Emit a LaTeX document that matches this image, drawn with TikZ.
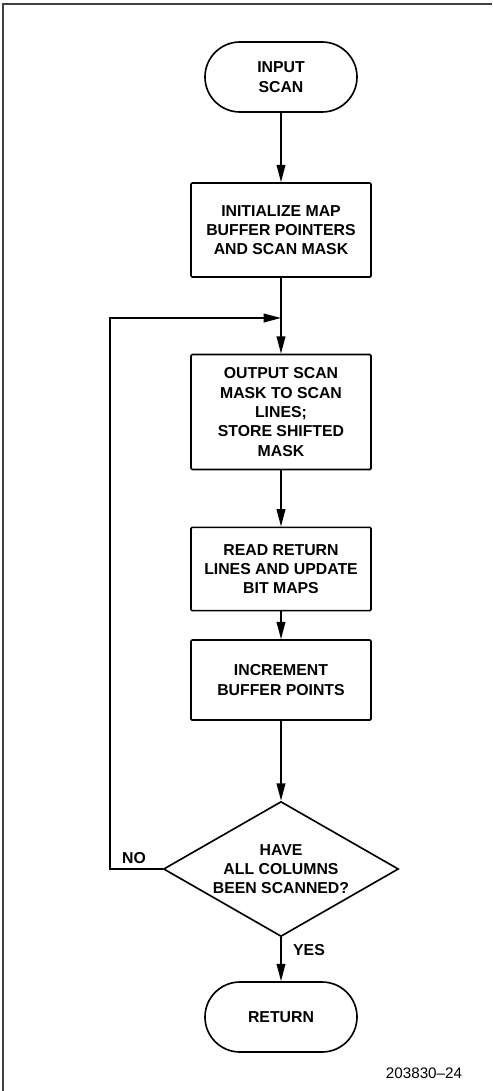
\documentclass[tikz,border=0pt]{standalone}
\usepackage{fontspec}
\setmainfont{Liberation Sans}
\usetikzlibrary{shapes.geometric,arrows.meta}
\begin{document}
\begin{tikzpicture}[x=0.03cm,y=-0.03cm,
  >={Triangle[length=0.52cm,width=0.26cm]},
  line width=1.4pt,
  every node/.style={font=\bfseries\fontsize{13.5}{16.5}\selectfont,align=center},
  term/.style={draw,rectangle,rounded corners=1.05cm,minimum width=4.56cm,minimum height=2.1cm,inner sep=0pt},
  procbox/.style={draw,rectangle,rounded corners=1pt,minimum width=5.4cm,minimum height=2.82cm,inner sep=2pt},
  decide/.style={draw,diamond,aspect=1.74,minimum width=7.05cm,minimum height=4.05cm,inner sep=0pt},
  tag/.style={font=\fontsize{13}{15}\selectfont}]
\useasboundingbox (0,0) rectangle (492,1091);
% frame
\draw[line width=2pt,black!75] (492,4) -- (3,4) -- (3,1091);
\path
(281,77) node[term] (in) {INPUT\\SCAN}
(281,230) node[procbox] (init) {INITIALIZE MAP\\BUFFER POINTERS\\AND SCAN MASK}
(281,318) coordinate (join)
(281,412) node[procbox,minimum height=3.45cm] (out) {OUTPUT SCAN\\MASK TO SCAN\\LINES;\\STORE SHIFTED\\MASK}
(281,569) node[procbox,minimum height=2.5cm] (read) {READ RETURN\\LINES AND UPDATE\\BIT MAPS}
(281,680) node[procbox,minimum height=2.4cm] (inc) {INCREMENT\\BUFFER POINTS}
(281,869) node[decide] (done) {HAVE\\ALL COLUMNS\\BEEN SCANNED?}
(281,1017) node[term] (ret) {RETURN}
(110,869) coordinate (back)
(134,858) node (no) {NO}
(309,950) node (yes) {YES}
(424,1073) node[tag] (fig) {203830--24};
% flow
\draw[->] (in) -- (init);
\draw[->] (init) -- (out);
\draw[->] (out) -- (read);
\draw[->] (read) -- (inc);
\draw[->] (inc) -- (done);
\draw[->] (done) -- (ret);
% loop back
\draw[->] (done.west) -- (back) |- (join);
\end{tikzpicture}
\end{document}
